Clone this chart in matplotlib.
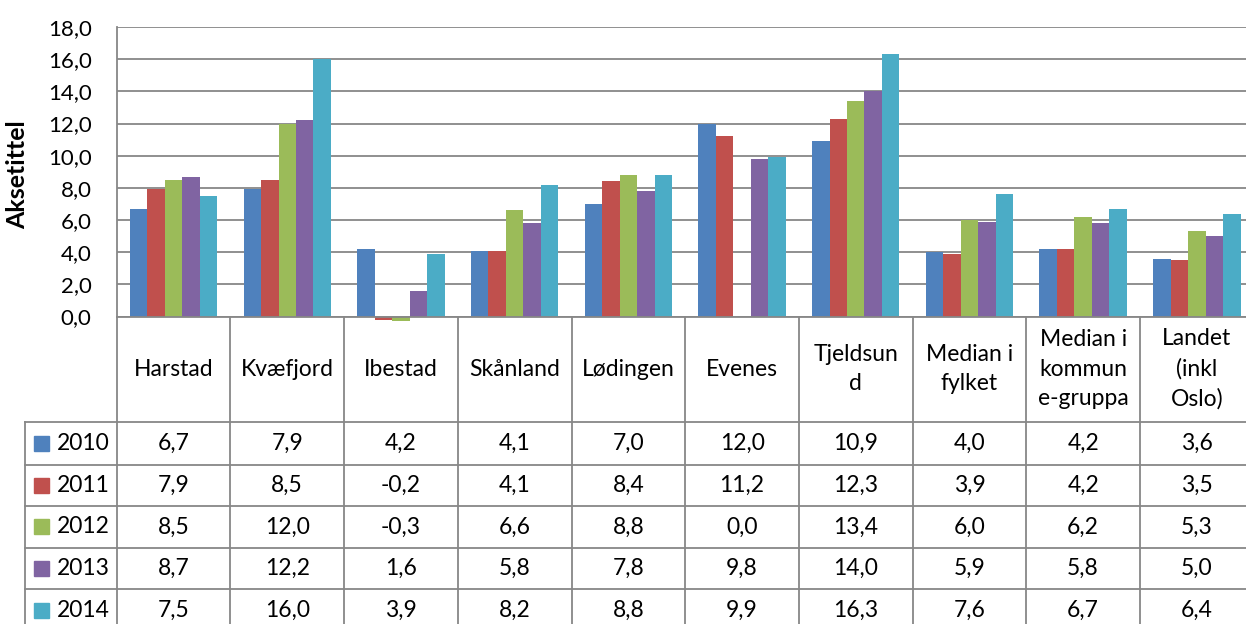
import matplotlib
matplotlib.use("Agg")
import matplotlib.pyplot as plt
from matplotlib.patches import Rectangle
from matplotlib.transforms import blended_transform_factory

plt.rcParams['font.family'] = ['Lato', 'DejaVu Sans']

# data
categories = ["Harstad", "Kvæfjord", "Ibestad", "Skånland", "Lødingen", "Evenes",
              "Tjeldsun\nd", "Median i\nfylket", "Median i\nkommun\ne-gruppa",
              "Landet\n(inkl\nOslo)"]
years = ["2010", "2011", "2012", "2013", "2014"]
v2010 = [6.7, 7.9, 4.2, 4.1, 7.0, 12.0, 10.9, 4.0, 4.2, 3.6]
v2011 = [7.9, 8.5, -0.2, 4.1, 8.4, 11.2, 12.3, 3.9, 4.2, 3.5]
v2012 = [8.5, 12.0, -0.3, 6.6, 8.8, 0.0, 13.4, 6.0, 6.2, 5.3]
v2013 = [8.7, 12.2, 1.6, 5.8, 7.8, 9.8, 14.0, 5.9, 5.8, 5.0]
v2014 = [7.5, 16.0, 3.9, 8.2, 8.8, 9.9, 16.3, 7.6, 6.7, 6.4]
series = [v2010, v2011, v2012, v2013, v2014]
colors = ["#4F81BD", "#C0504D", "#9BBB59", "#8064A2", "#4BACC6"]
yticks = [0, 2, 4, 6, 8, 10, 12, 14, 16, 18]

W, H = 1246, 624
grid_col = "#878787"
lw = 1.3
fs = 16.5


def fy(py):
    # pixel row (from top) -> figure fraction
    return 1 - py / H


def fx(px):
    return px / W


fig = plt.figure(figsize=(W / 100, H / 100), dpi=100)
ax_left, ax_right, ax_top, ax_bot = 116.7, 1253.7, 27.0, 316.5
ax = fig.add_axes([fx(ax_left), fy(ax_bot), fx(ax_right - ax_left), (ax_bot - ax_top) / H])

n = len(categories)
bw = 1 / 6.5
for j, (vals, c) in enumerate(zip(series, colors)):
    xs = [i + (j - 2) * bw for i in range(n)]
    ax.bar(xs, vals, width=bw, color=c, edgecolor='none', clip_on=False, zorder=2)

ax.set_xlim(-0.5, n - 0.5)
ax.set_ylim(0, 18)
ax.set_yticks(yticks)
ax.set_yticklabels([f"{t:.1f}".replace('.', ',') for t in yticks], fontsize=16)
ax.tick_params(axis='y', length=0, pad=18)
ax.set_xticks([])
ax.yaxis.grid(True, color=grid_col, lw=lw)
ax.set_axisbelow(True)
for s in ['top', 'right']:
    ax.spines[s].set_visible(False)
for s in ['left', 'bottom']:
    ax.spines[s].set_color(grid_col)
    ax.spines[s].set_linewidth(lw)
ax.set_ylabel("Aksetittel", fontsize=18, fontweight='bold')
ax.yaxis.set_label_coords((29 - ax_left) / (ax_right - ax_left), 0.49)

# data table under the plot
tr = blended_transform_factory(ax.transData, fig.transFigure)
row_edges = [ax_bot, 422.0, 464.5, 506.0, 547.7, 589.3, 631.0]
leg_left = 25.0

for i in range(n + 1):
    ax.plot([i - 0.5, i - 0.5], [fy(ax_bot), 0], transform=tr, color=grid_col,
            lw=lw, clip_on=False)
fig.add_artist(plt.Line2D([fx(leg_left), fx(leg_left)], [fy(row_edges[1]), 0],
                          color=grid_col, lw=lw))
for py in row_edges[1:]:
    fig.add_artist(plt.Line2D([fx(leg_left), 1], [fy(py), fy(py)], color=grid_col, lw=lw))

hy = fy((row_edges[0] + row_edges[1]) / 2)
for i, name in enumerate(categories):
    ax.text(i, hy, name, transform=tr, ha='center', va='center', fontsize=fs,
            linespacing=1.5, clip_on=False)

for j, (yr, vals, c) in enumerate(zip(years, series, colors)):
    cy = (row_edges[j + 1] + row_edges[j + 2]) / 2
    fig.add_artist(Rectangle((fx(34), fy(cy + 7.5)), fx(15), 15 / H,
                             color=c, transform=fig.transFigure))
    fig.text(fx(57), fy(cy), yr, ha='left', va='center', fontsize=fs)
    for i, v in enumerate(vals):
        ax.text(i, fy(cy), f"{v:.1f}".replace('.', ','), transform=tr,
                ha='center', va='center', fontsize=fs, clip_on=False)

fig.savefig("out.png", dpi=100)
